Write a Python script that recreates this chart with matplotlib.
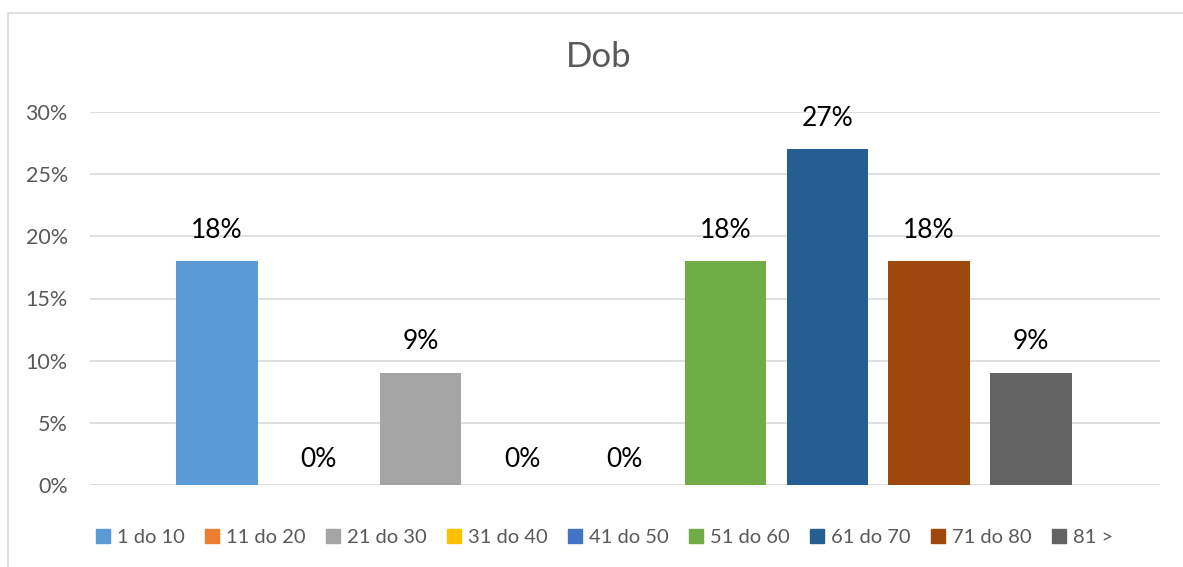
import matplotlib
matplotlib.use("Agg")
import matplotlib.pyplot as plt
from matplotlib.patches import Rectangle
from matplotlib.lines import Line2D

categories = ["1 do 10", "11 do 20", "21 do 30", "31 do 40", "41 do 50",
              "51 do 60", "61 do 70", "71 do 80", "81 >"]
values = [0.18, 0.0, 0.09, 0.0, 0.0, 0.18, 0.27, 0.18, 0.09]
colors = ["#5B9BD5", "#ED7D31", "#A5A5A5", "#FFC000", "#4472C4",
          "#70AD47", "#255E91", "#9E480E", "#636363"]
yticks = [0.0, 0.05, 0.10, 0.15, 0.20, 0.25, 0.30]
ytick_labels = ["0%", "5%", "10%", "15%", "20%", "25%", "30%"]
title = "Dob"

plt.rcParams['font.family'] = ['Lato', 'DejaVu Sans']

W, H = 1183, 567
fig = plt.figure(figsize=(W / 100, H / 100), dpi=100)

# outer chart frame
fig.patches.append(Rectangle((8 / W, -0.1), 1.2, (H - 13) / H + 0.1,
                             transform=fig.transFigure, fill=False,
                             edgecolor="#D9D9D9", linewidth=1.2))

ax = fig.add_axes([90 / W, 1 - 485 / H, (1160 - 90) / W, (485 - 112) / H])
for i, (v, c) in enumerate(zip(values, colors)):
    ax.bar(i, v, width=0.8, color=c, zorder=3, label=categories[i])
    ax.annotate(f"{round(v * 100):d}%", (i, v),
                xytext=(0, 17 if v > 0 else 13),
                textcoords="offset points", ha="center", va="baseline",
                fontsize=19, color="#000000")

ax.set_xlim(-1.25, 9.27)
ax.set_ylim(0, 0.30)
ax.set_yticks(yticks)
ax.set_yticklabels(ytick_labels, fontsize=15.5, color="#595959")
ax.set_xticks([])
ax.tick_params(axis="y", length=0, pad=16)
for s in ax.spines.values():
    s.set_visible(False)
ax.grid(axis="y", color="#D9D9D9", linewidth=1.2, zorder=0)
ax.set_axisbelow(True)

fig.text(599 / W, 1 - 57 / H, title, ha="center", va="center",
         fontsize=25, color="#595959")

handles = [Line2D([], [], marker="s", linestyle="", markersize=10,
                  markerfacecolor=c, markeredgecolor=c) for c in colors]
fig.legend(handles, categories, loc="center", ncol=9,
           bbox_to_anchor=(604 / W, 1 - 537 / H), frameon=False,
           fontsize=14.5, labelcolor="#595959", handlelength=0.8,
           handletextpad=0.3, columnspacing=0.95)

fig.savefig("out.png", dpi=100)
